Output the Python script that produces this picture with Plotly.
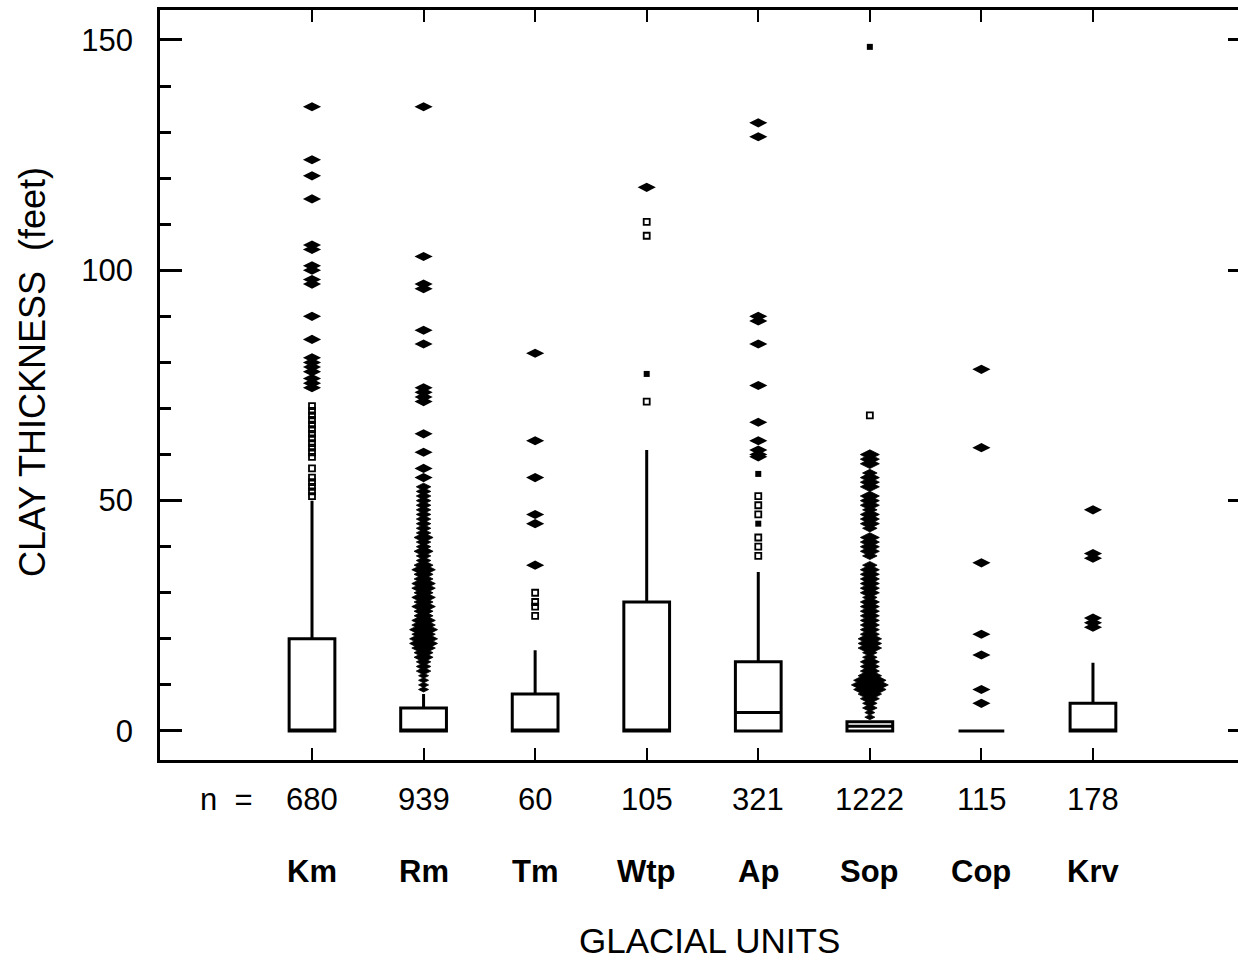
import plotly.graph_objects as go

# ---------------- data ----------------
UNITS = ["Km", "Rm", "Tm", "Wtp", "Ap", "Sop", "Cop", "Krv"]
N_OBS = [680, 939, 60, 105, 321, 1222, 115, 178]
POS = [1, 2, 3, 4, 5, 6, 7, 8]

Q1 = [0, 0, 0, 0, 0, 0, 0, 0]
MEDIAN = [0, 0, 0, 0, 4, 1, 0, 0]
Q3 = [20, 5, 8, 28, 15, 2, 0, 6]
LOWER = [0, 0, 0, 0, 0, 0, 0, 0]
UPPER = [50, 8, 17.5, 61, 34.5, 2, 0, 14.8]

# far outside values (drawn as flattened diamonds)
KM_FAR = [74.5, 75.5, 76.5, 78, 79, 80, 81, 85, 90, 97, 98, 100, 101, 104.5,
          105.5, 115.5, 120.5, 124, 135.5]
RM_FAR = [55, 57, 60.5, 64.5, 71.5, 72.5, 73.5, 74.5, 84, 87, 96, 97, 103, 135.5]
TM_FAR = [36, 45, 47, 55, 63, 82]
WTP_FAR = [118]
AP_FAR = [59.5, 60, 61, 63, 67, 75, 84, 89, 90, 129, 132]
SOP_FAR = []
COP_FAR = [6, 9, 16.5, 21, 36.5, 61.5, 78.5]
KRV_FAR = [22.5, 23.5, 24.5, 37.5, 38.5, 48]

# outside values (small open squares)
KM_NEAR = [51, 52, 53, 54, 55, 57, 59.5, 60.5, 61.5, 62.5, 63.5, 64.5, 65.5,
           66.5, 67.5, 68.5, 69.5, 70.5]
TM_NEAR = [25, 27, 28, 30]
WTP_NEAR = [71.5, 107.5, 110.5]
AP_NEAR = [38, 40, 42, 47, 49, 51]
SOP_NEAR = [68.5]

# outside values (small filled squares)
WTP_FILLED = [77.5]
AP_FILLED = [45, 55.8]
SOP_FILLED = [148.5]

# heavily tied outside values: value and number of wells at that value
RM_TIED = [9, 10, 11, 12, 13, 14, 15, 16, 17, 18, 19, 20, 21, 22, 23, 24, 25,
           26, 27, 28, 29, 30, 31, 32, 33, 34, 35, 36, 37, 38, 39, 40, 41, 42,
           43, 44, 45, 46, 47, 48, 49, 50, 51, 52, 53]
RM_TIED_N = [1, 1, 1, 1, 2, 2, 2, 3, 3, 4, 5, 5, 4, 5, 4, 4, 3, 3, 4, 3, 4,
             3, 4, 4, 3, 3, 4, 3, 2, 2, 3, 2, 2, 3, 2, 2, 2, 2, 2, 2, 2, 2, 2,
             2, 2]
SOP_TIED = [3, 4, 5, 6, 7, 8, 9, 10, 11, 12, 13, 14, 15, 16, 17, 18, 19, 20,
            21, 22, 23, 24, 25, 26, 27, 28, 29, 30, 31, 32, 33, 34, 35, 36, 38,
            39, 40, 41, 42, 44, 45, 46, 47, 48, 49, 50, 51, 53, 54, 55, 56,
            58, 59, 60]
SOP_TIED_N = [1, 1, 2, 2, 3, 4, 6, 7, 6, 4, 3, 3, 3, 2, 2, 4, 4, 4, 3, 3, 3,
              3, 3, 3, 3, 3, 2, 3, 3, 3, 3, 3, 3, 2, 2, 3, 3, 3, 3, 2, 3, 3,
              3, 2, 3, 3, 3, 3, 3, 3, 2, 3, 3, 3]

Y_TICKS = [0, 50, 100, 150]

# ---------------- figure ----------------
FONT = "Liberation Sans, Arial, Helvetica, sans-serif"
fig = go.Figure()

fig.add_trace(go.Box(
    x=POS, q1=Q1, median=MEDIAN, q3=Q3, lowerfence=LOWER, upperfence=UPPER,
    width=0.41, whiskerwidth=0, boxpoints=False,
    line=dict(color="black", width=3), fillcolor="rgba(0,0,0,0)",
    showlegend=False, hoverinfo="skip"))

far = [KM_FAR, RM_FAR, TM_FAR, WTP_FAR, AP_FAR, SOP_FAR, COP_FAR, KRV_FAR]
near = [KM_NEAR, [], TM_NEAR, WTP_NEAR, AP_NEAR, SOP_NEAR, [], []]
filled = [[], [], [], WTP_FILLED, AP_FILLED, SOP_FILLED, [], []]


def pts(groups):
    xs, ys = [], []
    for p, vals in zip(POS, groups):
        xs += [p] * len(vals)
        ys += vals
    return xs, ys


x, y = pts(far)
fig.add_trace(go.Scatter(x=x, y=y, mode="markers", showlegend=False,
                         marker=dict(symbol="diamond-wide", size=13, color="black",
                                     opacity=1, line=dict(width=0))))
x, y = pts(near)
fig.add_trace(go.Scatter(x=x, y=y, mode="markers", showlegend=False,
                         marker=dict(symbol="square-open", size=6, color="black",
                                     opacity=1, line=dict(width=1.8))))
x, y = pts(filled)
fig.add_trace(go.Scatter(x=x, y=y, mode="markers", showlegend=False,
                         marker=dict(symbol="square", size=6, color="black",
                                     opacity=1)))

for p, vals, counts in [(POS[1], RM_TIED, RM_TIED_N), (POS[5], SOP_TIED, SOP_TIED_N)]:
    fig.add_trace(go.Scatter(
        x=[p] * len(vals), y=vals, mode="markers", showlegend=False,
        marker=dict(symbol="diamond-wide", color="black", opacity=1,
                    line=dict(width=0.8, color="black"),
                    size=[4 + 3.2 * c for c in counts])))

# empty trace so the right-hand tick axis is drawn
fig.add_trace(go.Scatter(x=[None], y=[None], yaxis="y2", showlegend=False))

YR = [-6.3, 156.5]
fig.update_layout(
    width=1238, height=962,
    margin=dict(l=160, r=0, t=10, b=202),
    paper_bgcolor="white", plot_bgcolor="white",
    font=dict(family=FONT, color="black"),
    xaxis=dict(range=[-0.3624, 9.2999], tickvals=POS, showticklabels=False,
               ticks="inside", ticklen=12, tickwidth=2, tickcolor="black",
               showline=True, linewidth=3, linecolor="black", mirror="ticks",
               showgrid=False, zeroline=False),
    yaxis=dict(range=YR, tickvals=Y_TICKS, ticks="inside", ticklen=22,
               tickwidth=3, tickcolor="black",
               tickfont=dict(size=31, family=FONT), ticklabelstandoff=18,
               minor=dict(ticks="inside", ticklen=11, tickwidth=2.5,
                          tickcolor="black", dtick=10, tick0=0),
               showline=True, linewidth=2.5, linecolor="black",
               showgrid=False, zeroline=False),
    yaxis2=dict(range=YR, tickvals=Y_TICKS, overlaying="y", side="right",
                anchor="x", ticks="inside", ticklen=10, tickwidth=2.5,
                tickcolor="black", showticklabels=False, showline=False,
                showgrid=False, zeroline=False),
)

ann = []
ann.append(dict(x=0.0881, y=-0.0533, xref="paper", yref="paper", text="n  =",
                showarrow=False, xanchor="right", yanchor="middle",
                font=dict(size=31, family=FONT)))
for p, n, u in zip(POS, N_OBS, UNITS):
    ann.append(dict(x=p, y=-0.0533, xref="x", yref="paper", text=str(n),
                    showarrow=False, xanchor="center", yanchor="middle",
                    font=dict(size=31, family=FONT)))
    ann.append(dict(x=p, y=-0.1493, xref="x", yref="paper", text="<b>%s</b>" % u,
                    showarrow=False, xanchor="center", yanchor="middle",
                    font=dict(size=31, family=FONT)))
ann.append(dict(x=(709 - 160) / 1078, y=-0.2413, xref="paper", yref="paper",
                text="GLACIAL UNITS", showarrow=False, xanchor="center",
                yanchor="middle", font=dict(size=35, family=FONT)))
ann.append(dict(x=(32 - 160) / 1078, y=0.5173, xref="paper", yref="paper",
                text="CLAY THICKNESS  (feet)", textangle=-90, showarrow=False,
                xanchor="center", yanchor="middle", font=dict(size=36, family=FONT)))
fig.update_layout(annotations=ann)

fig.write_html("out.html")
